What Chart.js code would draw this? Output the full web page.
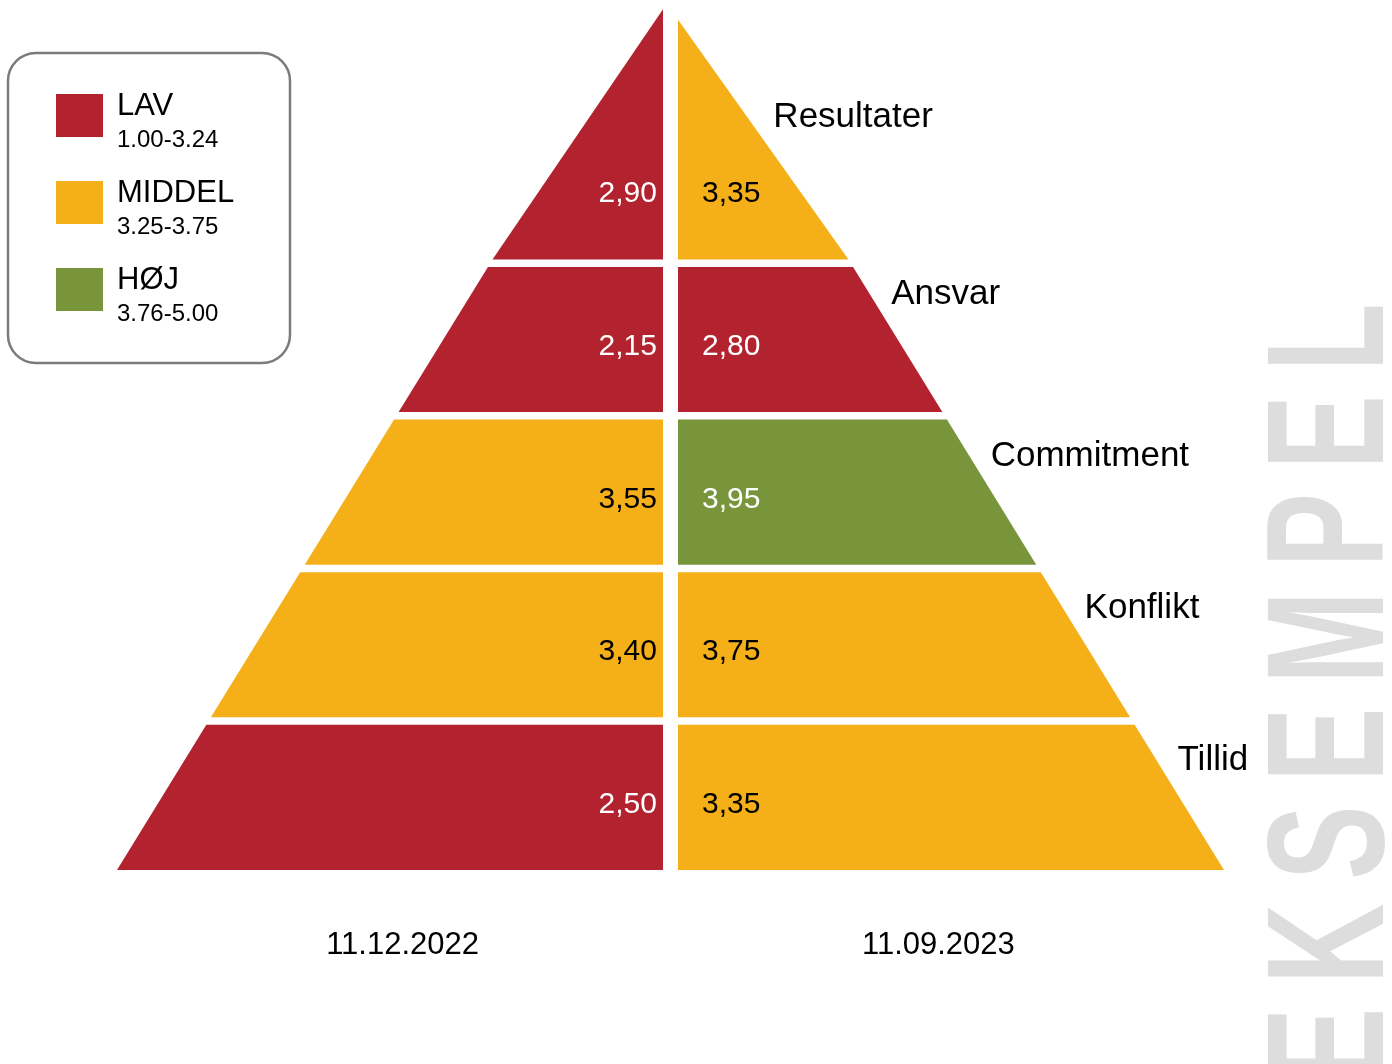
<!DOCTYPE html>
<html lang="da">
<head>
<meta charset="utf-8">
<title>Pyramide</title>
<script src="https://cdn.jsdelivr.net/npm/chart.js@4.4.1/dist/chart.umd.min.js"></script>
<style>
  html, body { margin: 0; padding: 0; background: #fff; }
  #wrap { width: 1392px; height: 1064px; }
</style>
</head>
<body>
<div id="wrap"><canvas id="pyramid" width="1392" height="1064"></canvas></div>
<script>
// data, top of the pyramid first
const categories = ['Resultater', 'Ansvar', 'Commitment', 'Konflikt', 'Tillid'];
const dates      = ['11.12.2022', '11.09.2023'];
const scores2022 = [2.90, 2.15, 3.55, 3.40, 2.50];
const scores2023 = [3.35, 2.80, 3.95, 3.75, 3.35];

const levelNames  = ['LAV', 'MIDDEL', 'HØJ'];
const levelRanges = ['1.00-3.24', '3.25-3.75', '3.76-5.00'];
const levelMax    = [3.24, 3.75, 5.00];
const levelColors = ['#b3222f', '#f4af19', '#78953c'];
const levelInk    = ['#ffffff', '#000000', '#ffffff'];
const watermark   = 'EKSEMPEL';

// layout of the pyramid (in scale units: x = half-width, y = level)
const FONT   = '"Liberation Sans", Arial, Helvetica, sans-serif';
const SLOPE  = 0.1696;          // half-width lost per level
const GAP_Y  = 0.0485;          // white gap between levels
const GAP_X  = 0.0136;          // half of the centre gap
const APEX   = [5.64, 5.57];    // top point of left / right half
const TOP    = categories.length - 1;
const labelHeights = [4.95, 3.79, 2.73, 1.73, 0.74];

const series = [scores2022, scores2023];
const levelOf = v => levelMax.findIndex(m => v <= m + 1e-9);
const fmt = v => v.toFixed(2).replace('.', ',');
const halfWidth = h => 1 - h * SLOPE;

// outer edge of the right half at height h
function edgeAt(h) {
  if (h <= TOP) return halfWidth(h);
  const t = (h - TOP) / (APEX[1] - TOP);
  return halfWidth(TOP) + (GAP_X - halfWidth(TOP)) * t;
}

function band(level, side, apex) {
  const y0 = level;
  if (level === TOP) {
    return [
      { x: side * halfWidth(y0), y: y0 },
      { x: side * GAP_X, y: y0 },
      { x: side * GAP_X, y: apex }
    ];
  }
  const y1 = level + 1 - GAP_Y;
  return [
    { x: side * halfWidth(y0), y: y0 },
    { x: side * GAP_X, y: y0 },
    { x: side * GAP_X, y: y1 },
    { x: side * halfWidth(y1), y: y1 }
  ];
}

const datasets = [];
series.forEach((vals, s) => {
  const side = s === 0 ? -1 : 1;
  vals.forEach((v, i) => {
    const col = levelColors[levelOf(v)];
    datasets.push({
      label: categories[i] + ' ' + dates[s],
      data: band(TOP - i, side, APEX[s]),
      showLine: true,
      fill: 'shape',
      tension: 0,
      backgroundColor: col,
      borderColor: 'rgba(0,0,0,0)',
      borderWidth: 0,
      pointRadius: 0,
      pointHoverRadius: 0,
      clip: false
    });
  });
});

function drawWatermark(ctx) {
  ctx.save();
  ctx.translate(1383, 1082);
  ctx.rotate(-Math.PI / 2);
  ctx.scale(1, 1.5);
  ctx.font = `bold 111px ${FONT}`;
  ctx.fillStyle = '#dddddd';
  ctx.textAlign = 'left';
  ctx.textBaseline = 'alphabetic';
  let x = 0;
  for (const ch of watermark) {
    ctx.fillText(ch, x, 0);
    x += ctx.measureText(ch).width + 24;
  }
  ctx.restore();
}

function drawLegend(ctx) {
  ctx.save();
  ctx.beginPath();
  ctx.roundRect(8, 53, 282, 310, 28);
  ctx.lineWidth = 2.5;
  ctx.strokeStyle = '#7b7b7b';
  ctx.stroke();
  ctx.textAlign = 'left';
  ctx.textBaseline = 'alphabetic';
  levelNames.forEach((name, i) => {
    const top = 94 + i * 87;
    ctx.fillStyle = levelColors[i];
    ctx.fillRect(56, top, 47, 43);
    ctx.fillStyle = '#000';
    ctx.font = `31px ${FONT}`;
    ctx.fillText(name, 117, top + 21);
    ctx.font = `24px ${FONT}`;
    ctx.fillText(levelRanges[i], 117, top + 53);
  });
  ctx.restore();
}

const pyramidText = {
  id: 'pyramidText',
  beforeDraw(chart) {
    drawWatermark(chart.ctx);
    drawLegend(chart.ctx);
  },
  afterDatasetsDraw(chart) {
    const ctx = chart.ctx;
    const xs = chart.scales.x, ys = chart.scales.y;
    ctx.save();
    ctx.textBaseline = 'alphabetic';

    // scores
    ctx.font = `30px ${FONT}`;
    series.forEach((vals, s) => {
      vals.forEach((v, i) => {
        const y = ys.getPixelForValue(TOP - i + 0.445) + 10.7;
        ctx.fillStyle = levelInk[levelOf(v)];
        if (s === 0) {
          ctx.textAlign = 'right';
          ctx.fillText(fmt(v), xs.getPixelForValue(-GAP_X) - 6, y);
        } else {
          ctx.textAlign = 'left';
          ctx.fillText(fmt(v), xs.getPixelForValue(GAP_X) + 24, y);
        }
      });
    });

    // category names along the right edge
    ctx.font = `35px ${FONT}`;
    ctx.fillStyle = '#000';
    ctx.textAlign = 'left';
    categories.forEach((name, i) => {
      const h = labelHeights[i];
      const pad = i === 0 ? 28 : 23;
      ctx.fillText(name, xs.getPixelForValue(edgeAt(h)) + pad, ys.getPixelForValue(h) + 12.5);
    });

    // dates under each half
    ctx.font = `31px ${FONT}`;
    ctx.textAlign = 'center';
    dates.forEach((d, s) => {
      const x = s === 0 ? -0.484 : 0.484;
      ctx.fillText(d, xs.getPixelForValue(x), ys.getPixelForValue(-0.478) + 11);
    });
    ctx.restore();
  }
};

new Chart(document.getElementById('pyramid'), {
  type: 'scatter',
  data: { datasets },
  options: {
    responsive: false,
    animation: false,
    events: [],
    layout: { padding: { left: 117, right: 168, top: 0, bottom: 194 } },
    scales: {
      x: { type: 'linear', min: -1, max: 1, display: false },
      y: { type: 'linear', min: 0, max: 5.7, display: false }
    },
    plugins: {
      legend: { display: false },
      tooltip: { enabled: false }
    }
  },
  plugins: [pyramidText]
});
</script>
</body>
</html>
